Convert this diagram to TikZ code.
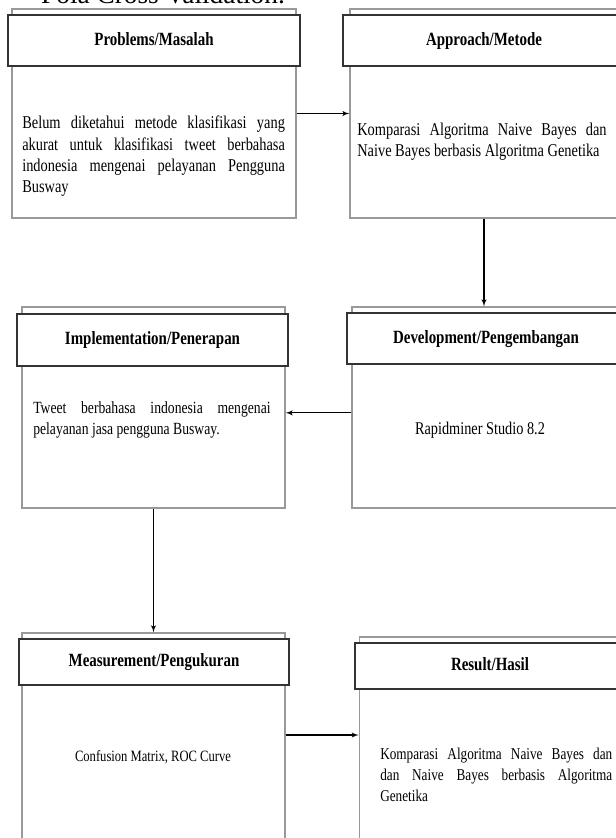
\documentclass[tikz,border=0pt]{standalone}
\usepackage{fontspec}
\setmainfont{Liberation Serif}
\newfontfamily\headfont{Liberation Serif}[FakeStretch=0.8]
\newfontfamily\bodyfont{Liberation Serif}[FakeStretch=0.8]
\usetikzlibrary{arrows, positioning}
\tikzset{
>=latex', % small filled arrow heads
x=0.75pt, y=-0.75pt, % work in pixels of the page, y going down
bodybox/.style={draw=black!40, line width=1pt, inner sep=0pt}, % light frame of a stage
headbox/.style={draw=black!80, line width=1pt, fill=white, inner sep=0pt,
  text height=10pt, text depth=3pt,
  font=\headfont\bfseries\fontsize{14}{16}\selectfont}, % title bar of a stage
bodytext/.style={inner sep=0pt, font=\bodyfont\fontsize{#1}{16pt}\selectfont},
bodytext/.default=12,
arr/.style={->, line width=0.8pt},
}

\begin{document}
\begin{tikzpicture}
  \useasboundingbox (0,0) rectangle (616,838);
  \clip (0,0) rectangle (616,838);

  % left over line of the page above
  \node[font=\fontsize{20.5}{22}\selectfont, anchor=base] (pagetitle) at (163,4) {Pola Cross Validation.};

  % frames
  \node[bodybox, minimum width=213pt, minimum height=156.75pt] (probbody) at (154,113.5) {};
  \node[bodybox, minimum width=201pt, minimum height=156.75pt] (apprbody) at (484,113.5) {};
  \node[bodybox, minimum width=197.25pt, minimum height=150.75pt] (implbody) at (153.5,407.5) {};
  \node[bodybox, minimum width=201pt, minimum height=150.75pt] (devbody) at (486,407.5) {};
  \node[bodybox, minimum width=197.25pt, minimum height=159pt] (measbody) at (153.5,739) {};
  \node[bodybox, minimum width=196pt, minimum height=156pt] (resbody) at (490,741) {};

  % title bars
  \node[headbox, minimum width=219pt, minimum height=38.25pt] (probhead) at (154,40.5) {Problems/Masalah};
  \node[headbox, minimum width=211.5pt, minimum height=38.25pt] (apprhead) at (484,40.5) {Approach/Metode};
  \node[headbox, minimum width=203.25pt, minimum height=39pt] (implhead) at (152.5,340) {Implementation/Penerapan};
  \node[headbox, minimum width=208.5pt, minimum height=38.25pt] (devhead) at (486,338.5) {Development/Pengembangan};
  \node[headbox, minimum width=202.5pt, minimum height=34.5pt] (meashead) at (154,662) {Measurement/Pengukuran};
  \node[headbox, minimum width=202.5pt, minimum height=34.5pt] (reshead) at (490,666) {Result/Hasil};

  % contents
  \node[bodytext=13.5, text width=197pt, align=justify, anchor=west] (probtext) at (22,156.5)
    {\baselineskip=15.75pt Belum diketahui metode klasifikasi yang\linebreak akurat untuk klasifikasi tweet berbahasa\linebreak indonesia mengenai pelayanan Pengguna\linebreak Busway};
  \node[bodytext=13.5, text width=187pt, align=justify, anchor=west] (apprtext) at (357,141.5)
    {\baselineskip=17pt Komparasi Algoritma Naive Bayes dan\linebreak Naive Bayes berbasis Algoritma Genetika};
  \node[bodytext=12.8, text width=178pt, align=justify, anchor=west] (impltext) at (33,420)
    {\baselineskip=17pt Tweet berbahasa indonesia mengenai\linebreak pelayanan jasa pengguna Busway.};
  \node[bodytext=13.4] (devtext) at (480,430) {Rapidminer Studio 8.2};
  \node[bodytext=11.8] (meastext) at (153,757) {Confusion Matrix, ROC Curve};
  \node[bodytext=12.4, text width=174pt, align=justify, anchor=west] (restext) at (380,775)
    {\baselineskip=15.75pt Komparasi Algoritma Naive Bayes dan\linebreak dan Naive Bayes berbasis Algoritma\linebreak Genetika};

  \coordinate (mr) at (0,735);

  \draw[arr] (probbody.east) -- (apprbody.west);
  \draw[arr] (apprbody.south) -- (apprbody.south |- devbody.north);
  \draw[arr] ([yshift=-4pt]devbody.west) -- ([yshift=-4pt]implbody.east);
  \draw[arr] (implbody.south) -- (measbody.north);
  \draw[arr] (measbody.east |- mr) -- (resbody.west |- mr);
\end{tikzpicture}
\end{document}
